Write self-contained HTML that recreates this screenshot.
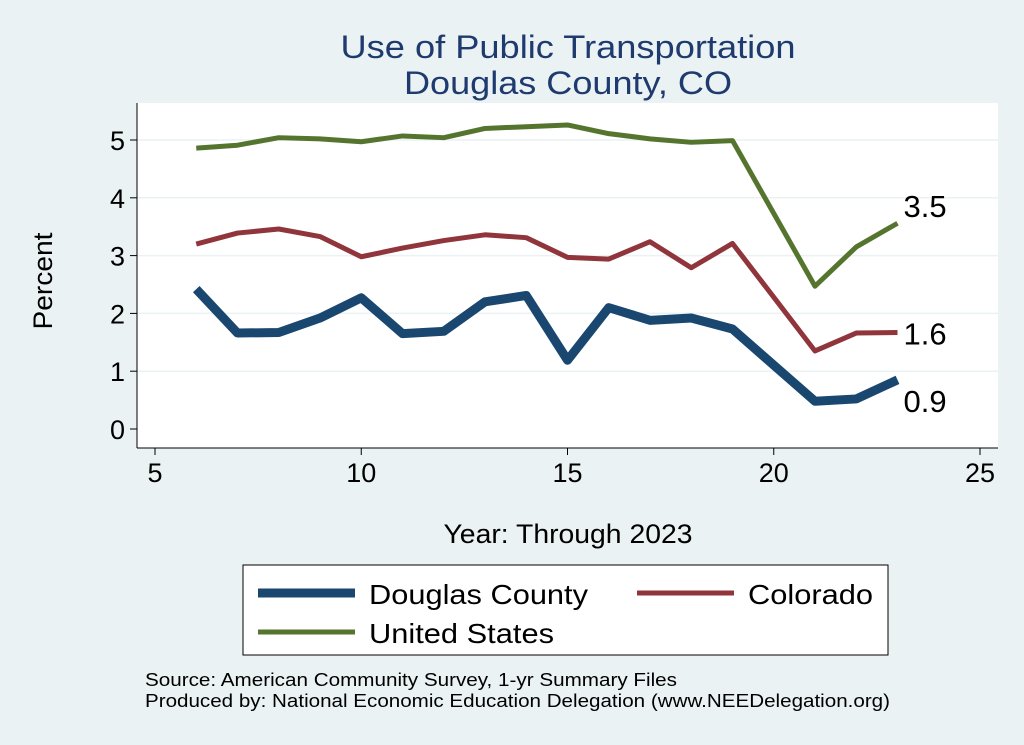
<!DOCTYPE html>
<html><head><meta charset="utf-8"><style>
body{margin:0;background:#eaf2f3;}
svg{display:block;font-family:"Liberation Sans",Arial,sans-serif;}
</style></head><body>
<svg id="chart" width="1024" height="745" viewBox="0 0 1024 745">
<rect x="0" y="0" width="1024" height="745" fill="#eaf2f3"/>
<text x="568" y="58" text-anchor="middle" font-size="32" fill="#1e3a6e" textLength="455" lengthAdjust="spacingAndGlyphs">Use of Public Transportation</text>
<text x="568" y="94" text-anchor="middle" font-size="32" fill="#1e3a6e" textLength="328" lengthAdjust="spacingAndGlyphs">Douglas County, CO</text>
<rect x="137" y="103" width="861" height="345" fill="#ffffff"/>
<g id="grid"></g><g id="axes"></g><g id="series"></g>
<text x="52" y="281" text-anchor="middle" font-size="27" textLength="97" lengthAdjust="spacingAndGlyphs" transform="rotate(-90 52 281)">Percent</text>
<text x="568" y="543" text-anchor="middle" font-size="27" textLength="249" lengthAdjust="spacingAndGlyphs">Year: Through 2023</text>
<g>
<rect x="243" y="565" width="645" height="90" fill="#fff" stroke="#000" stroke-width="1"/>
<g><line x1="258" y1="593" x2="355" y2="593" stroke="#1a476f" stroke-width="9"/><text x="369" y="604" font-size="28" textLength="219" lengthAdjust="spacingAndGlyphs">Douglas County</text></g>
<g><line x1="637" y1="593" x2="734" y2="593" stroke="#90353b" stroke-width="5"/><text x="748" y="604" font-size="28" textLength="125" lengthAdjust="spacingAndGlyphs">Colorado</text></g>
<g><line x1="258" y1="632" x2="355" y2="632" stroke="#55752f" stroke-width="5"/><text x="369" y="643" font-size="28" textLength="185" lengthAdjust="spacingAndGlyphs">United States</text></g>
</g>
<text x="145" y="686" font-size="18" textLength="532" lengthAdjust="spacingAndGlyphs">Source: American Community Survey, 1-yr Summary Files</text>
<text x="145" y="707" font-size="18" textLength="745" lengthAdjust="spacingAndGlyphs">Produced by: National Economic Education Delegation (www.NEEDelegation.org)</text>
</svg>
<script>
const years=[6,7,8,9,10,11,12,13,14,15,16,17,18,19,21,22,23];
const douglas=[2.42,1.66,1.67,1.92,2.27,1.65,1.69,2.2,2.31,1.19,2.1,1.88,1.92,1.73,0.48,0.52,0.85];
const colorado=[3.2,3.39,3.46,3.33,2.98,3.13,3.26,3.36,3.31,2.97,2.94,3.24,2.79,3.21,1.35,1.66,1.67];
const us=[4.86,4.91,5.04,5.02,4.97,5.07,5.04,5.2,5.23,5.26,5.11,5.02,4.96,4.99,2.47,3.15,3.56];
const xTicks=[5,10,15,20,25];
const yTicks=[0,1,2,3,4,5];
const endLabels=["0.9","1.6","3.5"];
const NS="http://www.w3.org/2000/svg";
const X=v=>155+(v-5)*41.25;
const Y=v=>429-v*57.8;
function mk(t,a,p){const e=document.createElementNS(NS,t);for(const k in a)e.setAttribute(k,a[k]);p.appendChild(e);return e;}
const grid=document.getElementById('grid'),axes=document.getElementById('axes'),ser=document.getElementById('series');
yTicks.forEach(v=>{
 if(v>0){const g=mk('line',{x1:137,x2:998,y1:Y(v),y2:Y(v),stroke:'#eaf2f3','stroke-width':1.5},grid);
 
 }
 const t=mk('line',{x1:130,x2:137,y1:Y(v),y2:Y(v),stroke:'#000'},axes);
 
 
 const l=mk('text',{x:125,y:Y(v)+10,'text-anchor':'end','font-size':27},axes);l.textContent=v;
 
 
});
xTicks.forEach(v=>{
 const t=mk('line',{x1:X(v),x2:X(v),y1:448,y2:455,stroke:'#000'},axes);
 
 
 const l=mk('text',{x:X(v),y:482,'text-anchor':'middle','font-size':27},axes);l.textContent=v;
 
 
});
const ya=mk('line',{x1:137,x2:137,y1:103,y2:448,stroke:'#000'},axes);


const xa=mk('line',{x1:137,x2:998,y1:448,y2:448,stroke:'#000'},axes);


const defs=[[us,'#55752f',5,'line-united-states'],[colorado,'#90353b',5,'line-colorado'],[douglas,'#1a476f',9,'line-douglas-county']];
defs.forEach(([d,c,w,n])=>{
 const p=mk('polyline',{points:years.map((y,i)=>X(y)+','+Y(d[i])).join(' '),fill:'none',stroke:c,'stroke-width':w,'stroke-linejoin':'round'},ser);
 
 
});
const offs=[32,12,-6];
[douglas,colorado,us].forEach((d,i)=>{
 const last=d.length-1;
 const t=mk('text',{x:X(years[last])+6,y:Y(d[last])+offs[i],'font-size':31},ser);t.textContent=endLabels[i];
 
 
});
</script>
</body></html>
